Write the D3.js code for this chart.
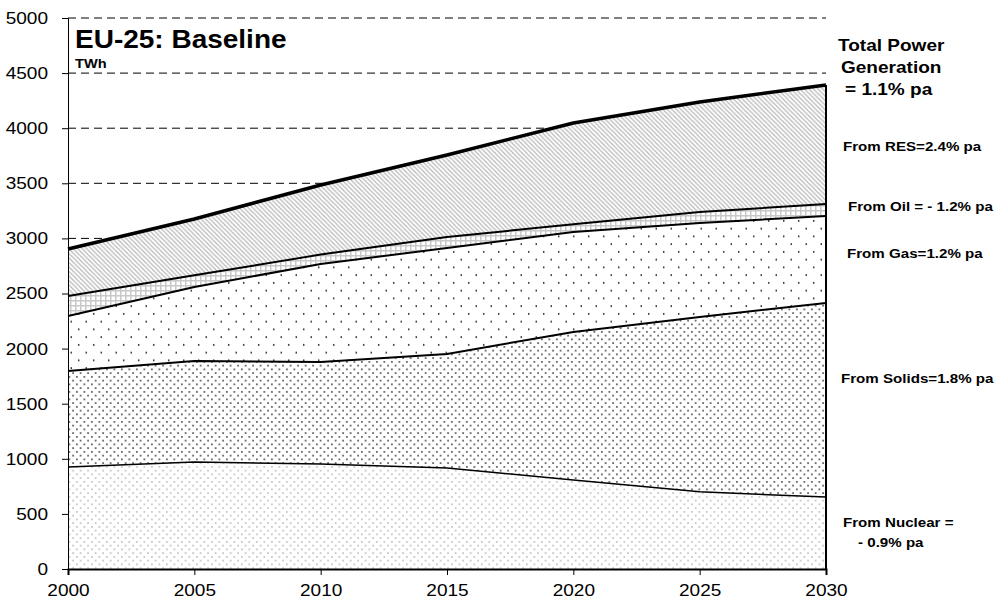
<!DOCTYPE html>
<html><head><meta charset="utf-8">
<script src="https://cdn.jsdelivr.net/npm/d3@7"></script>
<style>body{margin:0;background:#fff}svg{display:block;font-family:Arial,"Liberation Sans",sans-serif}</style>
</head><body><svg id="c" width="998" height="606"></svg>
<script>
const years = [2000, 2005, 2010, 2015, 2020, 2025, 2030];
const nuclear = [925, 971, 953, 917, 808, 700, 653];
const solids  = [872, 916, 925, 1034, 1343, 1587, 1761];
const gas     = [499, 672, 890, 962, 907, 853, 789];
const oil     = [181, 106, 85, 100, 70, 100, 109];
const res     = [427, 511, 632, 744, 919, 998, 1080];
const yTicks = [0, 500, 1000, 1500, 2000, 2500, 3000, 3500, 4000, 4500, 5000];
const xTicks = [2000, 2005, 2010, 2015, 2020, 2025, 2030];
const seriesKeys = ["nuclear", "solids", "gas", "oil", "res"];
const rightLabels = [
  {t: "Total Power", x: 838, y: 51, s: 17},
  {t: "Generation", x: 841, y: 73, s: 17},
  {t: "= 1.1% pa", x: 845, y: 95, s: 17},
  {t: "From RES=2.4% pa", x: 843, y: 151, s: 13.5},
  {t: "From Oil = - 1.2% pa", x: 848, y: 211, s: 13.5},
  {t: "From Gas=1.2% pa", x: 847, y: 258, s: 13.5},
  {t: "From Solids=1.8% pa", x: 841, y: 383, s: 13.5},
  {t: "From Nuclear =", x: 843, y: 527, s: 13.5},
  {t: "- 0.9% pa", x: 858, y: 547, s: 13.5}
];
const SX = 1.12; // horizontal text stretch seen in the reference

const svg = d3.select("#c");
const x = d3.scaleLinear().domain([2000, 2030]).range([68, 826]);
const y = d3.scaleLinear().domain([0, 5000]).range([569, 18]);

const data = years.map((yr, i) => ({year: yr, nuclear: nuclear[i], solids: solids[i], gas: gas[i], oil: oil[i], res: res[i]}));
const stack = d3.stack().keys(seriesKeys)(data);

// patterns
const defs = svg.append("defs");
function dotPattern(id, w, h, color, r) {
  const p = defs.append("pattern").attr("id", id).attr("patternUnits", "userSpaceOnUse").attr("width", w).attr("height", h);
  p.append("rect").attr("width", w).attr("height", h).attr("fill", "#fff");
  p.append("circle").attr("cx", w * 0.25).attr("cy", h * 0.25).attr("r", r).attr("fill", color);
  p.append("circle").attr("cx", w * 0.75).attr("cy", h * 0.75).attr("r", r).attr("fill", color);
}
dotPattern("pNuc", 7.5, 7.5, "#b4b4b4", 0.85);
dotPattern("pSol", 7.5, 7.5, "#333", 0.85);
dotPattern("pGas", 15, 15.5, "#222", 0.85);
{
  const p = defs.append("pattern").attr("id", "pOil").attr("patternUnits", "userSpaceOnUse").attr("width", 5).attr("height", 5);
  p.append("rect").attr("width", 5).attr("height", 5).attr("fill", "#fff");
  p.append("path").attr("d", "M0.75,0V5M0,0.75H5").attr("stroke", "#c8c8c8").attr("stroke-width", 1.5);
}
{
  const p = defs.append("pattern").attr("id", "pRes").attr("patternUnits", "userSpaceOnUse").attr("width", 4.5).attr("height", 4.5);
  p.append("rect").attr("width", 4.5).attr("height", 4.5).attr("fill", "#fff");
  p.append("path").attr("d", "M0,0L4.5,4.5M-1,3.5L1,5.5M3.5,-1L5.5,1").attr("stroke", "#b8b8b8").attr("stroke-width", 1.25);
}
const fills = {nuclear: "url(#pNuc)", solids: "url(#pSol)", gas: "url(#pGas)", oil: "url(#pOil)", res: "url(#pRes)"};
const lineW = {nuclear: 1.5, solids: 2, gas: 2, oil: 2, res: 3.5};

// gridlines
svg.append("g").selectAll("line").data(yTicks.filter(d => d > 0)).join("line")
  .attr("x1", x(2000)).attr("x2", x(2030)).attr("y1", d => y(d)).attr("y2", d => y(d))
  .attr("stroke", "#000").attr("stroke-width", 1).attr("stroke-dasharray", "8,5");

// areas
const area = d3.area().x(d => x(d.data.year)).y0(d => y(d[0])).y1(d => y(d[1]));
svg.append("g").selectAll("path").data(stack).join("path")
  .attr("d", area).attr("fill", d => fills[d.key]);

// lines
const line = d3.line().x(d => x(d.data.year)).y(d => y(d[1]));
svg.append("g").selectAll("path").data(stack).join("path")
  .attr("d", line).attr("fill", "none").attr("stroke", "#000")
  .attr("stroke-width", d => lineW[d.key]).attr("stroke-linejoin", "round");

// right edge
const topVal = stack[stack.length - 1][years.length - 1][1];
svg.append("line").attr("x1", x(2030)).attr("x2", x(2030)).attr("y1", y(topVal)).attr("y2", y(0))
  .attr("stroke", "#000").attr("stroke-width", 2);

// axes
const ya = svg.append("g").attr("transform", `translate(${x(2000)},0)`)
  .call(d3.axisLeft(y).tickValues(yTicks).tickSize(6).tickFormat(d3.format("d")));
ya.select(".domain").attr("stroke", "#000");
ya.selectAll("text").attr("font-size", 17).attr("fill", "#000").attr("x", 0)
  .attr("transform", `translate(-20,0) scale(${SX},1)`)
  .style("font-family", "Arial, 'Liberation Sans', sans-serif");
const xa = svg.append("g").attr("transform", `translate(0,${y(0)})`)
  .call(d3.axisBottom(x).tickValues(xTicks).tickSize(6).tickPadding(9).tickFormat(d3.format("d")));
xa.select(".domain").attr("stroke", "#000").attr("stroke-width", 2);
xa.selectAll("text").attr("font-size", 17).attr("fill", "#000")
  .attr("transform", `scale(${SX},1)`)
  .style("font-family", "Arial, 'Liberation Sans', sans-serif");

// titles
function stretchedText(g, t, tx, ty, size) {
  return g.append("text").attr("transform", `translate(${tx},${ty}) scale(${SX},1)`)
    .attr("font-size", size).attr("font-weight", "bold").attr("fill", "#000").text(t);
}
stretchedText(svg, "EU-25: Baseline", 75, 48, 25);
stretchedText(svg, "TWh", 75, 68, 13);

const rl = svg.append("g");
rightLabels.forEach(d => stretchedText(rl, d.t, d.x, d.y, d.s));
</script></body></html>
